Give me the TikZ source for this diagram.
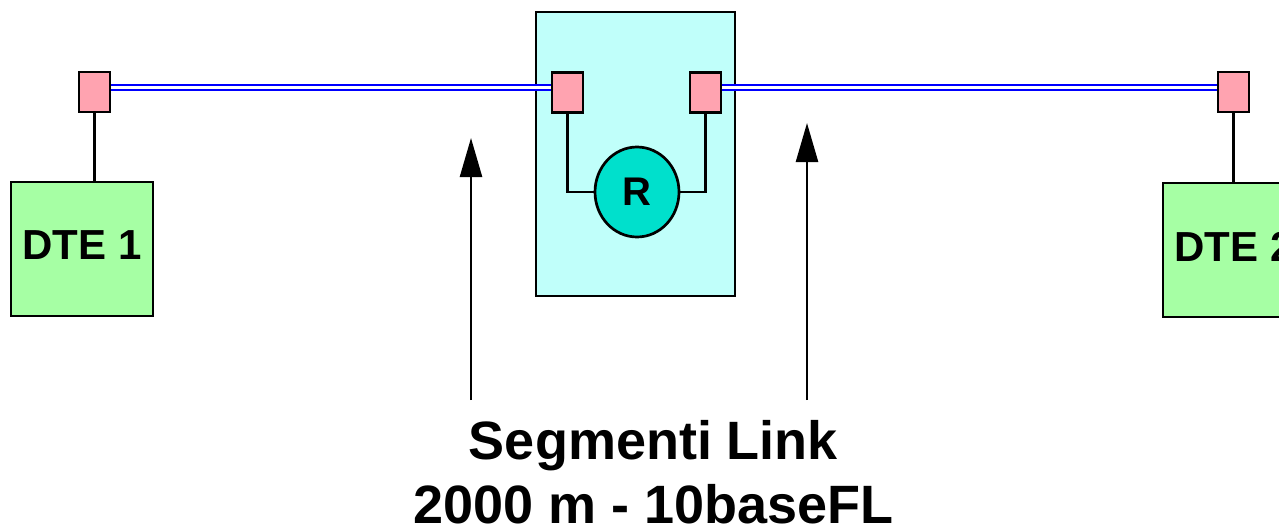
\documentclass[tikz,border=0pt]{standalone}
\usepackage{fontspec}
\setmainfont{Liberation Sans}
\usetikzlibrary{arrows.meta,shapes.geometric}
\definecolor{dtegreen}{HTML}{A6FFA4}
\definecolor{repcyan}{HTML}{C0FFFA}
\definecolor{portpink}{HTML}{FFA3B0}
\definecolor{rturq}{HTML}{00E0CC}
\definecolor{linkblue}{HTML}{0000FF}
\tikzset{
  dtebox/.style={draw=black, line width=2.7pt, fill=dtegreen, minimum width=142pt, minimum height=134pt, inner sep=0pt, text depth=7pt, font=\fontsize{42}{48}\bfseries},
  repbox/.style={draw=black, line width=2.7pt, fill=repcyan, minimum width=199pt, minimum height=284pt, inner sep=0pt},
  port/.style={draw=black, line width=2.7pt, fill=portpink, minimum width=31pt, minimum height=40pt, inner sep=0pt},
  rnode/.style={ellipse, draw=black, line width=2.7pt, fill=rturq, minimum width=84pt, minimum height=90pt, inner sep=0pt, font=\fontsize{40}{46}\bfseries},
  wire/.style={draw=black, line width=2.5pt},
  fibre/.style={draw=linkblue, line width=2.5pt, double=white, double distance=2.6pt},
  pointer/.style={draw=black, line width=2.5pt, -{Triangle[length=39pt,width=22pt]}},
  caption/.style={anchor=base, inner sep=0pt, font=\fontsize{54}{62}\bfseries}
}
\begin{document}
\begin{tikzpicture}[x=1pt,y=-1pt]
\useasboundingbox (0,0) rectangle (1279,525);
\clip (0,0) rectangle (1279,525);
% repeater box
\node[repbox] (rep) at (635.5,154) {};
% DTE boxes
\node[dtebox] (dte1) at (82,249) {DTE 1};
\node[dtebox] (dte2) at (1234,250) {DTE 2};
% fibre links
\coordinate (fl) at (110,87.5);
\coordinate (fr) at (1218,87.5);
% ports
\node[port] (p1) at (94.5,92) {};
\node[port] (pl) at (567.5,92.5) {};
\node[port] (pr) at (705.5,92.5) {};
\node[port] (p2) at (1233.5,92) {};
\draw[fibre] (p1.east |- fl) -- (pl.west |- fl);
\draw[fibre] (pr.east |- fr) -- (p2.west |- fr);
% repeater
\node[rnode] (R) at (637,192) {R};
\draw[wire] (pl.south) |- (R.west);
\draw[wire] (pr.south) |- (R.east);
% drop wires
\draw[wire] (p1.south) -- (p1.south |- dte1.north);
\draw[wire] (p2.south) -- (p2.south |- dte2.north);
% arrows
\coordinate (a1s) at (471,400);
\coordinate (a1t) at (471,138);
\coordinate (a2s) at (807,400);
\coordinate (a2t) at (807,123);
\draw[pointer] (a1s) -- (a1t);
\draw[pointer] (a2s) -- (a2t);
% caption
\node[caption] (cap1) at (653.5,459) {Segmenti Link};
\node[caption] (cap2) at (653.5,523) {2000 m - 10baseFL};
\end{tikzpicture}
\end{document}
